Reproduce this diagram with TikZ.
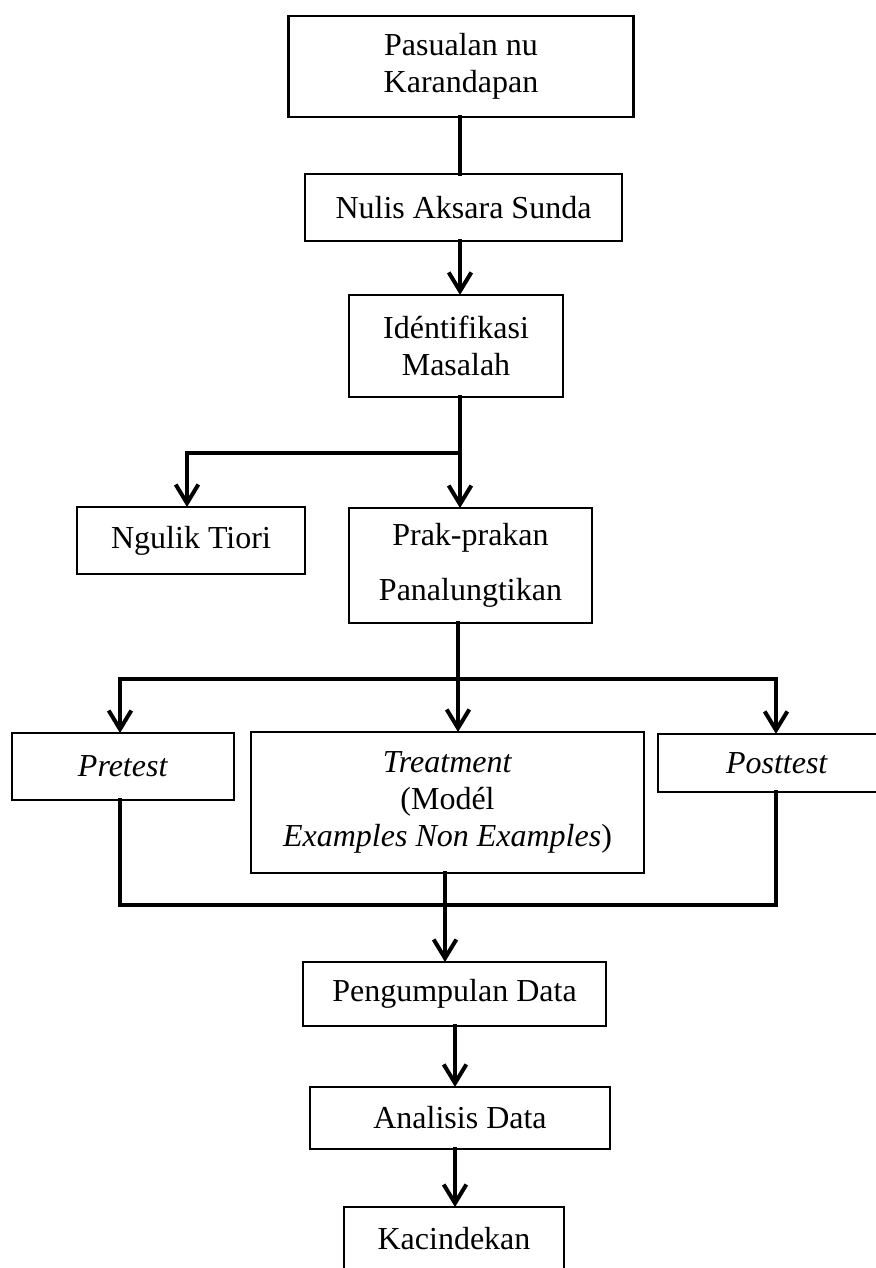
\documentclass[tikz,border=0pt]{standalone}
\usepackage{fontspec}
\setmainfont{Liberation Serif}
\usetikzlibrary{arrows.meta}
\tikzstyle{bx}=[draw=black,line width=.8pt,inner sep=0pt,outer sep=0pt,align=center,font=\fontsize{12}{13.9}\selectfont]
\tikzstyle{ln}=[line width=1.5pt,line cap=rect]
\tikzstyle{ar}=[line width=1.5pt,line cap=rect,-{Straight Barb[length=7pt,width=8.5pt]}]

\begin{document}
\begin{tikzpicture}[x=.375pt,y=-.375pt]
		\useasboundingbox (0,0) rectangle (876,1268);
		% kotak
		\node[bx,minimum width=129.4pt,minimum height=37.9pt] (b1) at (461,66.5) {Pasualan nu\\Karandapan};
		\node[bx,minimum width=118.9pt,minimum height=25.1pt] (b2) at (463.5,207.5) {Nulis Aksara Sunda};
		\node[bx,minimum width=80.3pt,minimum height=38.3pt] (b3) at (456,346) {Idéntifikasi\\Masalah};
		\node[bx,minimum width=85.5pt,minimum height=25.1pt] (ng) at (191,540.5) {Ngulik Tiori};
		\node[bx,minimum width=91.1pt,minimum height=43.1pt] (pr) at (470.5,565.5) {Prak-prakan\\[6.7pt]Panalungtikan};
		\node[bx,minimum width=83.3pt,minimum height=25.1pt] (pre) at (123,766.5) {\textit{Pretest}};
		\node[bx,minimum width=147.4pt,minimum height=52.9pt] (tr) at (447.5,802.5) {\textit{Treatment}\\(Modél\\\textit{Examples Non Examples})};
		\node[bx,minimum width=89.3pt,minimum height=21.8pt] (post) at (777,763) {\textit{Posttest}};
		\node[bx,minimum width=113.6pt,minimum height=24pt] (pg) at (454.5,994) {Pengumpulan Data};
		\node[bx,minimum width=112.5pt,minimum height=23.3pt] (an) at (460,1118) {Analisis Data};
		\node[bx,minimum width=82.5pt,minimum height=23.6pt] (kc) at (454,1238.5) {Kacindekan};
		% titik cabang
		\coordinate (j1) at (460,453);
		\coordinate (n1) at (187,453);
		\coordinate (j2) at (458,679);
		\coordinate (n2) at (120,679);
		\coordinate (n3) at (776,679);
		\coordinate (m1) at (120,905);
		\coordinate (m2) at (776,905);
		\coordinate (j3) at (445,905);
		\coordinate (j4) at (455,1056);
		% garis
		\draw[ln] (b1.south -| j1) -- (b2.north -| j1);
		\draw[ar] (b2.south -| j1) -- (b3.north -| j1);
		\draw[ln] (b3.south -| j1) -- (j1) -- (n1);
		\draw[ar] (n1) -- (n1 |- ng.north);
		\draw[ar] (j1) -- (j1 |- pr.north);
		\draw[ln] (pr.south -| j2) -- (j2);
		\draw[ln] (n2) -- (n3);
		\draw[ar] (n2) -- (n2 |- pre.north);
		\draw[ar] (j2) -- (j2 |- tr.north);
		\draw[ar] (n3) -- (n3 |- post.north);
		\draw[ln] (pre.south -| m1) -- (m1) -- (m2) -- (post.south -| m2);
		\draw[ar] (tr.south -| j3) -- (j3 |- pg.north);
		\draw[ar] (pg.south -| j4) -- (an.north -| j4);
		\draw[ar] (an.south -| j4) -- (kc.north -| j4);
	\end{tikzpicture}
\end{document}
